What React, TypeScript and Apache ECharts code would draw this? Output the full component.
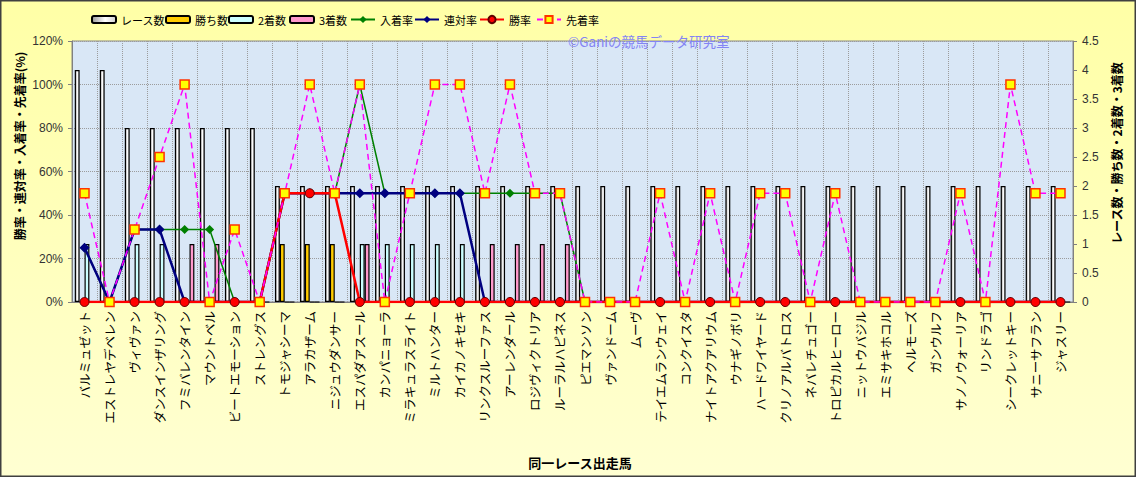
import React, { useEffect, useRef } from "react";
import * as echarts from "echarts";

const horses = [
  "バルミュゼット", "エストレヤデベレン", "ヴィヴァン", "ダンスインザリング", "フミバレンタイン",
  "マウントベル", "ビートエモーション", "ストレングス", "トモジャシーマ", "アラカザーム",
  "ニジュウダンサー", "エスパダアスール", "カンパニョーラ", "ミラキュラスライト", "ミルトハンター",
  "カイカノキセキ", "リンクスルーファス", "アーレンダール", "ロジヴィクトリア", "ルーラルハピネス",
  "ピエマンソン", "ヴァンドーム", "ムーヴ", "テイエムランウェイ", "コンクイスタ",
  "ナイトアクアリウム", "ウナギノボリ", "ハードワイヤード", "クリノアルバトロス", "ネバレチュゴー",
  "トロピカルヒーロー", "ニットウバジル", "エミサキホコル", "ヘルモーズ", "ガンウルフ",
  "サノノウォーリア", "リンドラゴ", "シークレットキー", "サニーサフラン", "ジャスリー",
];

// counts (right axis)
const raceCounts = [4, 4, 3, 3, 3, 3, 3, 3, 2, 2, 2, 2, 2, 2, 2, 2, 2, 2, 2, 2, 2, 2, 2, 2, 2, 2, 2, 2, 2, 2, 2, 2, 2, 2, 2, 2, 2, 2, 2, 2];
const winCounts = [0, 0, 0, 0, 0, 0, 0, 0, 1, 1, 1, 0, 0, 0, 0, 0, 0, 0, 0, 0, 0, 0, 0, 0, 0, 0, 0, 0, 0, 0, 0, 0, 0, 0, 0, 0, 0, 0, 0, 0];
const secondCounts = [1, 0, 1, 1, 0, 0, 0, 0, 0, 0, 0, 1, 1, 1, 1, 1, 0, 0, 0, 0, 0, 0, 0, 0, 0, 0, 0, 0, 0, 0, 0, 0, 0, 0, 0, 0, 0, 0, 0, 0];
const thirdCounts = [0, 0, 0, 0, 1, 1, 0, 0, 0, 0, 0, 1, 0, 0, 0, 0, 1, 1, 1, 1, 0, 0, 0, 0, 0, 0, 0, 0, 0, 0, 0, 0, 0, 0, 0, 0, 0, 0, 0, 0];

// rates % (left axis)
const placeRate = [25, 0, 33.3, 33.3, 33.3, 33.3, 0, 0, 50, 50, 50, 100, 50, 50, 50, 50, 50, 50, 50, 50, 0, 0, 0, 0, 0, 0, 0, 0, 0, 0, 0, 0, 0, 0, 0, 0, 0, 0, 0, 0];
const quinellaRate = [25, 0, 33.3, 33.3, 0, 0, 0, 0, 50, 50, 50, 50, 50, 50, 50, 50, 0, 0, 0, 0, 0, 0, 0, 0, 0, 0, 0, 0, 0, 0, 0, 0, 0, 0, 0, 0, 0, 0, 0, 0];
const winRate = [0, 0, 0, 0, 0, 0, 0, 0, 50, 50, 50, 0, 0, 0, 0, 0, 0, 0, 0, 0, 0, 0, 0, 0, 0, 0, 0, 0, 0, 0, 0, 0, 0, 0, 0, 0, 0, 0, 0, 0];
const aheadRate = [50, 0, 33.3, 66.7, 100, 0, 33.3, 0, 50, 100, 50, 100, 0, 50, 100, 100, 50, 100, 50, 50, 0, 0, 0, 50, 0, 50, 0, 50, 50, 0, 50, 0, 0, 0, 0, 50, 0, 100, 50, 50];

const leftTicks = { min: 0, max: 120, interval: 20 };
const rightTicks = { min: 0, max: 4.5, interval: 0.5 };

const seriesNames = ["レース数", "勝ち数", "2着数", "3着数", "入着率", "連対率", "勝率", "先着率"];
const legendLeft = [86, 160, 223, 284, 345, 409, 474, 531];

const FONT = "'Liberation Sans','Noto Sans CJK JP',sans-serif";
const JFONT = "'Noto Sans CJK JP','Liberation Sans',sans-serif";

export default function App() {
  const ref = useRef<HTMLDivElement>(null);
  useEffect(() => {
    const chart = echarts.init(ref.current!, null, { renderer: "svg" });
    const raceGrad = new echarts.graphic.LinearGradient(0, 0, 1, 0, [
      { offset: 0, color: "#9a9a9a" },
      { offset: 0.55, color: "#ffffff" },
      { offset: 1, color: "#d0d0d0" },
    ]);
    const barBase = {
      type: "bar",
      yAxisIndex: 1,
      barGap: "0%",
      barCategoryGap: "22%",
    };
    const option: any = {
      animation: false,
      backgroundColor: new echarts.graphic.LinearGradient(0, 0, 0, 1, [
        { offset: 0, color: "#ffffa6" },
        { offset: 1, color: "#ffffd2" },
      ]),
      textStyle: { fontFamily: FONT },
      legend: seriesNames.map((n, i) => ({
        data: [n],
        left: legendLeft[i],
        top: 9,
        itemWidth: 24,
        itemHeight: i < 4 ? 7 : 9,
        itemGap: 0,
        textStyle: { fontSize: 11, color: "#000", fontFamily: JFONT },
        selectedMode: false,
      })),
      grid: {
        left: 72,
        right: 63,
        top: 41,
        bottom: 175,
        show: true,
        backgroundColor: "#d9e7f6",
        borderColor: "#8a8a8a",
        borderWidth: 1,
      },
      xAxis: {
        type: "category",
        data: horses,
        boundaryGap: true,
        axisLine: { lineStyle: { color: "#808080" } },
        axisTick: { show: false },
        axisLabel: {
          rotate: 90,
          interval: 0,
          margin: 9,
          fontSize: 12.5,
          color: "#000",
          fontFamily: JFONT,
        },
        splitLine: { show: true, interval: 0, lineStyle: { color: "#9c9c9c", type: "dotted" } },
      },
      yAxis: [
        {
          type: "value",
          ...leftTicks,
          position: "left",
          axisLine: { show: true, lineStyle: { color: "#808080" } },
          axisTick: { show: true, length: 4, lineStyle: { color: "#808080" } },
          axisLabel: { formatter: "{value}%", fontSize: 12, color: "#333", margin: 9 },
          splitLine: { show: true, lineStyle: { color: "#9c9c9c", type: "dotted" } },
        },
        {
          type: "value",
          ...rightTicks,
          position: "right",
          axisLine: { show: true, lineStyle: { color: "#808080" } },
          axisTick: { show: true, length: 4, lineStyle: { color: "#808080" } },
          axisLabel: { fontSize: 12, color: "#333", margin: 9 },
          splitLine: { show: false },
        },
      ],
      series: [
        {
          ...barBase,
          name: "レース数",
          data: raceCounts,
          itemStyle: { color: raceGrad, borderColor: "#000", borderWidth: 1.2 },
        },
        {
          ...barBase,
          name: "勝ち数",
          data: winCounts,
          itemStyle: { color: "#ffcc00", borderColor: "#000", borderWidth: 1.2 },
        },
        {
          ...barBase,
          name: "2着数",
          data: secondCounts,
          itemStyle: { color: "#ccffff", borderColor: "#000", borderWidth: 1.2 },
        },
        {
          ...barBase,
          name: "3着数",
          data: thirdCounts,
          itemStyle: { color: "#ff99cc", borderColor: "#000", borderWidth: 1.2 },
        },
        {
          type: "line",
          name: "入着率",
          yAxisIndex: 0,
          data: placeRate,
          symbol: "diamond",
          symbolSize: 9,
          lineStyle: { color: "#008000", width: 1.5 },
          itemStyle: { color: "#008000" },
        },
        {
          type: "line",
          name: "連対率",
          yAxisIndex: 0,
          data: quinellaRate,
          symbol: "diamond",
          symbolSize: 10,
          lineStyle: { color: "#000080", width: 2.5 },
          itemStyle: { color: "#000080" },
        },
        {
          type: "line",
          name: "勝率",
          yAxisIndex: 0,
          data: winRate,
          symbol: "circle",
          symbolSize: 9,
          lineStyle: { color: "#ff0000", width: 2.5 },
          itemStyle: { color: "#ff0000", borderColor: "#600000", borderWidth: 1 },
        },
        {
          type: "line",
          name: "先着率",
          yAxisIndex: 0,
          data: aheadRate,
          symbol: "rect",
          symbolSize: 9,
          lineStyle: { color: "#ff00ff", width: 1.5, type: [6, 4] },
          itemStyle: { color: "#ffff00", borderColor: "#ff3300", borderWidth: 1.5 },
        },
      ],
      graphic: [
        {
          type: "text",
          x: 568,
          y: 41,
          style: {
            text: "©Ganiの競馬データ研究室",
            fill: "#8484f4",
            fontSize: 13.5,
            fontFamily: JFONT,
            textVerticalAlign: "middle",
          },
          z: 100,
        },
        {
          type: "text",
          x: 19,
          y: 146,
          rotation: Math.PI / 2,
          style: {
            text: "勝率・連対率・入着率・先着率(%)",
            fill: "#000",
            fontSize: 12,
            fontWeight: "bold",
            fontFamily: JFONT,
            align: "center",
            verticalAlign: "middle",
          },
        },
        {
          type: "text",
          x: 1116,
          y: 153,
          rotation: Math.PI / 2,
          style: {
            text: "レース数・勝ち数・2着数・3着数",
            fill: "#000",
            fontSize: 12,
            fontWeight: "bold",
            fontFamily: JFONT,
            align: "center",
            verticalAlign: "middle",
          },
        },
        {
          type: "text",
          x: 580,
          y: 462,
          style: {
            text: "同一レース出走馬",
            fill: "#000",
            fontSize: 13,
            fontWeight: "bold",
            fontFamily: JFONT,
            align: "center",
            verticalAlign: "middle",
          },
        },
        {
          type: "rect",
          shape: { x: 0.75, y: 0.75, width: 1134.5, height: 475.5 },
          style: { fill: "none", stroke: "#404040", lineWidth: 1.5 },
          silent: true,
        },
      ],
    };
    chart.setOption(option);
    return () => chart.dispose();
  }, []);
  return <div ref={ref} style={{ position: "absolute", left: 0, top: 0, width: 1136, height: 477 }} />;
}
